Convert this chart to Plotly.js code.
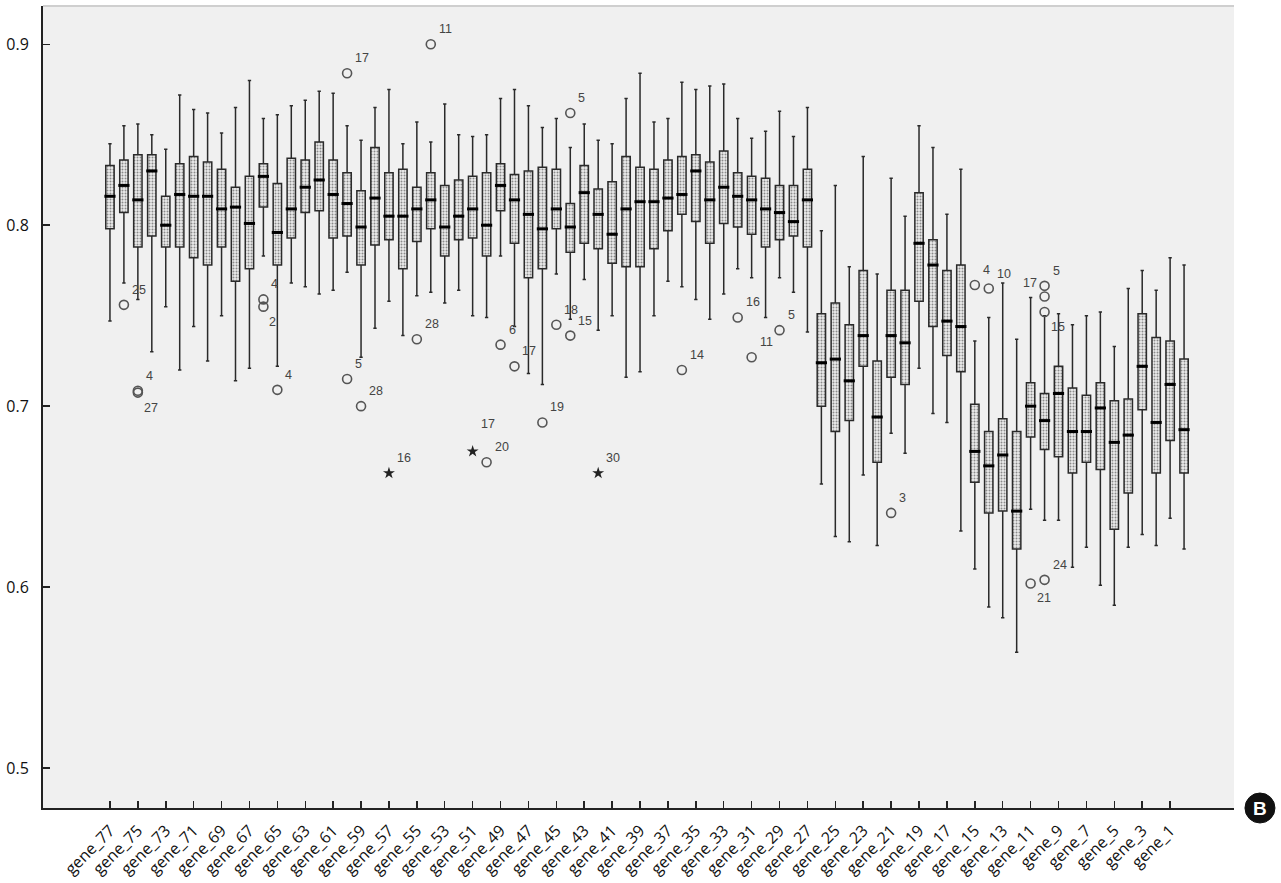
<!DOCTYPE html>
<html><head><meta charset="utf-8">
<script src="https://cdn.plot.ly/plotly-3.0.1.min.js"></script>
<style>html,body{margin:0;padding:0;background:#fff}#chart{width:1281px;height:883px}</style>
</head><body><div id="chart"></div>
<script>
// ---------------- DATA ----------------
const genes = ['gene_77','gene_76','gene_75','gene_74','gene_73','gene_72','gene_71','gene_70','gene_69','gene_68',
'gene_67','gene_66','gene_65','gene_64','gene_63','gene_62','gene_61','gene_60','gene_59','gene_58',
'gene_57','gene_56','gene_55','gene_54','gene_53','gene_52','gene_51','gene_50','gene_49','gene_48',
'gene_47','gene_46','gene_45','gene_44','gene_43','gene_42','gene_41','gene_40','gene_39','gene_38',
'gene_37','gene_36','gene_35','gene_34','gene_33','gene_32','gene_31','gene_30','gene_29','gene_28',
'gene_27','gene_26','gene_25','gene_24','gene_23','gene_22','gene_21','gene_20','gene_19','gene_18',
'gene_17','gene_16','gene_15','gene_14','gene_13','gene_12','gene_11','gene_10','gene_9','gene_8',
'gene_7','gene_6','gene_5','gene_4','gene_3','gene_2','gene_1','gene_0'];

const tickLabels = ['gene_77','gene_75','gene_73','gene_71','gene_69','gene_67','gene_65','gene_63','gene_61','gene_59',
'gene_57','gene_55','gene_53','gene_51','gene_49','gene_47','gene_45','gene_43','gene_41','gene_39',
'gene_37','gene_35','gene_33','gene_31','gene_29','gene_27','gene_25','gene_23','gene_21','gene_19',
'gene_17','gene_15','gene_13','gene_11','gene_9','gene_7','gene_5','gene_3','gene_1'];

const lowerWhisker = [.747,.768,.759,.730,.755,.720,.744,.725,.750,.714,
.721,.783,.722,.768,.766,.762,.764,.774,.727,.743,
.758,.739,.761,.763,.757,.764,.750,.749,.783,.744,
.718,.712,.773,.748,.770,.742,.750,.716,.719,.750,
.769,.766,.759,.748,.762,.776,.771,.749,.771,.763,
.741,.657,.628,.625,.662,.623,.685,.674,.721,.696,
.691,.631,.610,.589,.583,.564,.643,.637,.637,.611,
.622,.601,.590,.622,.629,.623,.638,.621];

const q1 = [.798,.807,.788,.794,.788,.788,.782,.778,.788,.769,
.776,.810,.778,.793,.807,.808,.793,.794,.778,.789,
.792,.776,.791,.798,.783,.792,.793,.783,.808,.790,
.771,.776,.798,.785,.790,.787,.779,.777,.777,.787,
.797,.806,.802,.790,.801,.799,.795,.788,.792,.794,
.788,.700,.686,.692,.722,.669,.716,.712,.758,.744,
.728,.719,.658,.641,.642,.621,.683,.676,.672,.663,
.669,.665,.632,.652,.698,.663,.681,.663];

const median = [.816,.822,.814,.830,.800,.817,.816,.816,.809,.810,
.801,.827,.796,.809,.821,.825,.817,.812,.799,.815,
.805,.805,.809,.814,.799,.805,.809,.800,.822,.814,
.806,.798,.809,.799,.818,.806,.795,.809,.813,.813,
.815,.817,.830,.814,.821,.816,.814,.809,.807,.802,
.814,.724,.726,.714,.739,.694,.739,.735,.790,.778,
.747,.744,.675,.667,.673,.642,.700,.692,.707,.686,
.686,.699,.680,.684,.722,.691,.712,.687];

const q3 = [.833,.836,.839,.839,.816,.834,.838,.835,.831,.821,
.827,.834,.823,.837,.836,.846,.836,.829,.819,.843,
.829,.831,.821,.829,.822,.825,.827,.829,.834,.828,
.830,.832,.831,.812,.833,.820,.824,.838,.832,.831,
.836,.838,.839,.835,.841,.829,.827,.826,.822,.822,
.831,.751,.757,.745,.775,.725,.764,.764,.818,.792,
.775,.778,.701,.686,.693,.686,.713,.707,.722,.710,
.706,.713,.703,.704,.751,.738,.736,.726];

const upperWhisker = [.845,.855,.856,.850,.842,.872,.864,.862,.851,.865,
.880,.859,.861,.866,.869,.874,.873,.855,.847,.865,
.875,.845,.857,.846,.867,.850,.849,.850,.870,.875,
.866,.854,.859,.843,.856,.847,.845,.870,.884,.857,
.859,.879,.875,.877,.878,.859,.848,.852,.863,.849,
.865,.797,.822,.777,.838,.773,.826,.805,.855,.843,
.806,.831,.736,.749,.768,.737,.760,.750,.751,.745,
.750,.752,.733,.765,.775,.764,.782,.778];

// outliers: 'o' = outlier (circle), '*' = extreme (star)
const outGene  = ['gene_76','gene_75','gene_75','gene_66','gene_66','gene_65','gene_60','gene_60','gene_59','gene_57',
                  'gene_55','gene_54','gene_51','gene_50','gene_49','gene_48','gene_46','gene_45','gene_44','gene_44',
                  'gene_42','gene_36','gene_32','gene_31','gene_29','gene_21','gene_15','gene_14','gene_11','gene_10',
                  'gene_10','gene_10','gene_10'];
const outValue = [.756,.7085,.7075,.759,.755,.709,.884,.715,.700,.663,
                  .737,.900,.675,.669,.734,.722,.691,.745,.862,.739,
                  .663,.720,.749,.727,.742,.641,.767,.765,.602,.7665,
                  .7606,.752,.604];
const outLabel = ['25','4','27','4','2','4','17','5','28','16',
                  '28','11','17','20','6','17','19','18','5','15',
                  '30','14','16','11','5','3','4','10','21','5',
                  '17','15','24'];
const outKind  = ['o','o','o','o','o','o','o','o','o','*',
                  'o','o','*','o','o','o','o','o','o','o',
                  '*','o','o','o','o','o','o','o','o','o',
                  'o','o','o'];

// ---------------- STYLE ----------------
const FONT = 'Open Sans, Noto Sans, sans-serif';
const LABEL_FONT = {family:'Liberation Sans, Arial, sans-serif', size:12.5, color:'#444'};
// label placement (default: up-right of the point)
const PLACE = {'gene_75|27':'dr','gene_66|2':'dr','gene_51|17':'uu','gene_11|21':'dr','gene_10|17':'ul','gene_10|15':'dr'};

const boxHeight = q3.map((v,k)=>v-q1[k]);

const traces = [
  {type:'bar', x:genes, y:boxHeight, base:q1, width:0.6, hoverinfo:'skip', showlegend:false,
   marker:{color:'#e9e9e9', line:{width:0},
           pattern:{shape:'.', fgcolor:'#8a8a8a', bgcolor:'#ececec', size:3, solidity:0.35}}},
  {type:'box', x:genes, q1:q1, median:median, q3:q3, lowerfence:lowerWhisker, upperfence:upperWhisker,
   width:0.6, whiskerwidth:0.4, boxpoints:false, fillcolor:'rgba(0,0,0,0)',
   line:{color:'#2a2a2a', width:1.5}, hoverinfo:'skip', showlegend:false},
  {type:'scatter', mode:'markers', x:genes, y:median, hoverinfo:'skip', showlegend:false,
   marker:{symbol:'line-ew', size:8, color:'#000', line:{width:3, color:'#000'}}},
  {type:'scatter', mode:'markers', showlegend:false, hoverinfo:'skip',
   x:outGene.filter((g,k)=>outKind[k]==='o'), y:outValue.filter((v,k)=>outKind[k]==='o'),
   marker:{symbol:'circle-open', size:9, color:'#555', line:{width:1.6, color:'#555'}}},
  {type:'scatter', mode:'markers', showlegend:false, hoverinfo:'skip',
   x:outGene.filter((g,k)=>outKind[k]==='*'), y:outValue.filter((v,k)=>outKind[k]==='*'),
   marker:{symbol:'star', size:9, color:'#222', line:{width:0}}}
];

const annotations = outGene.map((g,k)=>{
  const p = PLACE[g+'|'+outLabel[k]] || 'ur';
  const a = {x:g, y:outValue[k], xref:'x', yref:'y', text:outLabel[k], showarrow:false,
             font:LABEL_FONT, xanchor:'left', yanchor:'middle', xshift:6, yshift:15};
  if (p==='dr') { a.yshift = -15; a.xshift = 4; }
  if (p==='uu') { a.yshift = 27; }
  if (p==='ul') { a.xanchor = 'right'; a.xshift = -6; a.yshift = 14; }
  return a;
});
annotations.push({xref:'paper', yref:'paper', x:1.0218, y:0, text:'<b>B</b>', showarrow:false,
  xanchor:'center', yanchor:'middle', font:{family:'Liberation Sans, Arial, sans-serif', size:19, color:'#fff'}});

const layout = {
  width:1281, height:883,
  margin:{l:43, r:47, t:6, b:75, pad:0},
  paper_bgcolor:'#ffffff', plot_bgcolor:'#f0f0f0',
  showlegend:false, hovermode:false, boxmode:'overlay',
  xaxis:{type:'category', categoryorder:'array', categoryarray:genes, range:[-4.8, 80.58],
         tickmode:'array', tickvals:tickLabels, ticktext:tickLabels, tickangle:-45,
         ticks:'inside', ticklen:7, tickwidth:1.5, tickcolor:'#222',
         showline:true, linecolor:'#222', linewidth:2, showgrid:false, zeroline:false,
         tickfont:{family:FONT, size:16, color:'#111'}, ticklabelstandoff:5},
  yaxis:{range:[0.4779, 0.92116], tickmode:'array', tickvals:[0.5,0.6,0.7,0.8,0.9], ticktext:['0.5','0.6','0.7','0.8','0.9'],
         ticks:'inside', ticklen:7, tickwidth:1.5, tickcolor:'#222',
         showline:true, linecolor:'#222', linewidth:2, showgrid:false, zeroline:false,
         tickfont:{family:FONT, size:16, color:'#111'}, ticklabelstandoff:9},
  shapes:[
    {type:'line', xref:'paper', yref:'paper', x0:0, x1:1, y0:1, y1:1, line:{color:'#cfcfcf', width:2}},
    {type:'circle', xref:'paper', yref:'paper', x0:1.0218-0.0126, x1:1.0218+0.0126, y0:-0.0187, y1:0.0187,
     fillcolor:'#111', line:{color:'#111', width:1}}
  ],
  annotations:annotations
};

Plotly.newPlot('chart', traces, layout, {displayModeBar:false, staticPlot:true});
</script></body></html>
